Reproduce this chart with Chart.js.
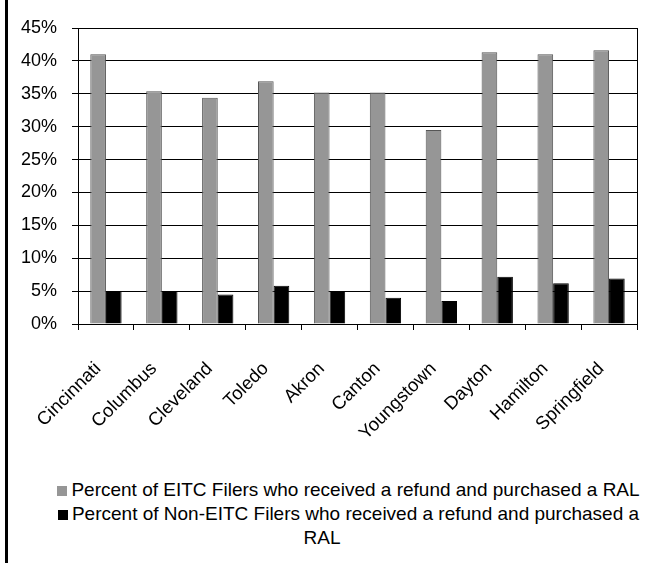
<!DOCTYPE html>
<html>
<head>
<meta charset="utf-8">
<script src="https://cdn.jsdelivr.net/npm/chart.js@4"></script>
<style>
  html, body { margin: 0; padding: 0; background: #fff; }
  body { width: 645px; height: 563px; position: relative; overflow: hidden; font-family: "Liberation Sans", Arial, sans-serif; }
  #frame { position: absolute; left: 5px; top: 0; width: 3px; height: 563px; background: #000; }
  #wrap { position: absolute; left: 0; top: 0; width: 645px; height: 460px; }
  #legend { position: absolute; left: 0; top: 478px; width: 644px; font-size: 19px; line-height: 24px; color: #000; }
  #legend .item { text-align: center; text-indent: 53px; }
  #legend .sw { display: inline-block; width: 10px; height: 10px; margin-right: 4px; vertical-align: baseline; }
</style>
</head>
<body>
<div id="frame"></div>
<div id="wrap"><canvas id="chart"></canvas></div>
<div id="legend"></div>
<script>
// cities along the x axis
const cities = ['Cincinnati', 'Columbus', 'Cleveland', 'Toledo', 'Akron', 'Canton',
  'Youngstown', 'Dayton', 'Hamilton', 'Springfield'];

// percent of filers who got a refund and bought a RAL
const eitcPct = [41.0, 35.4, 34.4, 36.9, 35.2, 35.2, 29.5, 41.3, 41.0, 41.6];
const nonEitcPct = [5.0, 5.0, 4.5, 5.8, 5.0, 4.0, 3.5, 7.2, 6.2, 6.9];

const seriesNames = [
  'Percent of EITC Filers who received a refund and purchased a RAL',
  'Percent of Non-EITC Filers who received a refund and purchased a RAL'
];

const yTicks = [0, 5, 10, 15, 20, 25, 30, 35, 40, 45];

const font = { family: '"Liberation Sans", Arial, sans-serif' };

const chart = new Chart(document.getElementById('chart'), {
  type: 'bar',
  data: {
    labels: cities,
    datasets: [
      {
        label: seriesNames[0],
        data: eitcPct,
        backgroundColor: '#969696',
        borderColor: '#555555',
        borderWidth: 1,
        categoryPercentage: 0.56,
        barPercentage: 1.0
      },
      {
        label: seriesNames[1],
        data: nonEitcPct,
        backgroundColor: '#000000',
        borderColor: '#000000',
        borderWidth: 1,
        categoryPercentage: 0.56,
        barPercentage: 1.0
      }
    ]
  },
  options: {
    responsive: true,
    maintainAspectRatio: false,
    animation: false,
    layout: { padding: { top: 28, right: 8, bottom: 0, left: 0 } },
    plugins: {
      legend: { display: false },
      tooltip: { enabled: false }
    },
    scales: {
      x: {
        grid: { offset: true, drawOnChartArea: false, drawTicks: true, tickLength: 6, color: '#000' },
        border: { display: true, color: '#000', width: 1 },
        ticks: {
          color: '#000',
          font: { ...font, size: 18.5 },
          minRotation: 45,
          maxRotation: 45,
          autoSkip: false,
          padding: 28,
          labelOffset: -8
        },
        afterFit: (scale) => {
          scale.height = 136;
          // keep the categories spread over the whole plot width
          scale.paddingLeft = 0;
          scale.paddingRight = 0;
        }
      },
      y: {
        min: 0,
        max: 45,
        afterBuildTicks: (scale) => { scale.ticks = yTicks.map(v => ({ value: v })); },
        grid: { color: '#000', lineWidth: 1, tickLength: 6 },
        border: { display: true, color: '#000', width: 1 },
        ticks: {
          color: '#000',
          font: { ...font, size: 18 },
          padding: 15,
          callback: (v) => v + '%'
        },
        afterFit: (scale) => { scale.width = 78; }
      },
      yRight: {
        position: 'right',
        min: 0,
        max: 45,
        grid: { drawOnChartArea: false, drawTicks: false },
        border: { display: true, color: '#000', width: 1 },
        ticks: { display: false },
        afterFit: (scale) => { scale.width = 0; }
      }
    }
  }
});

// legend drawn as html so the long label can wrap like the original
const legendEl = document.getElementById('legend');
chart.data.datasets.forEach((ds) => {
  const item = document.createElement('div');
  item.className = 'item';
  const sw = document.createElement('span');
  sw.className = 'sw';
  sw.style.background = ds.backgroundColor;
  item.appendChild(sw);
  item.appendChild(document.createTextNode(ds.label));
  legendEl.appendChild(item);
});
</script>
</body>
</html>
